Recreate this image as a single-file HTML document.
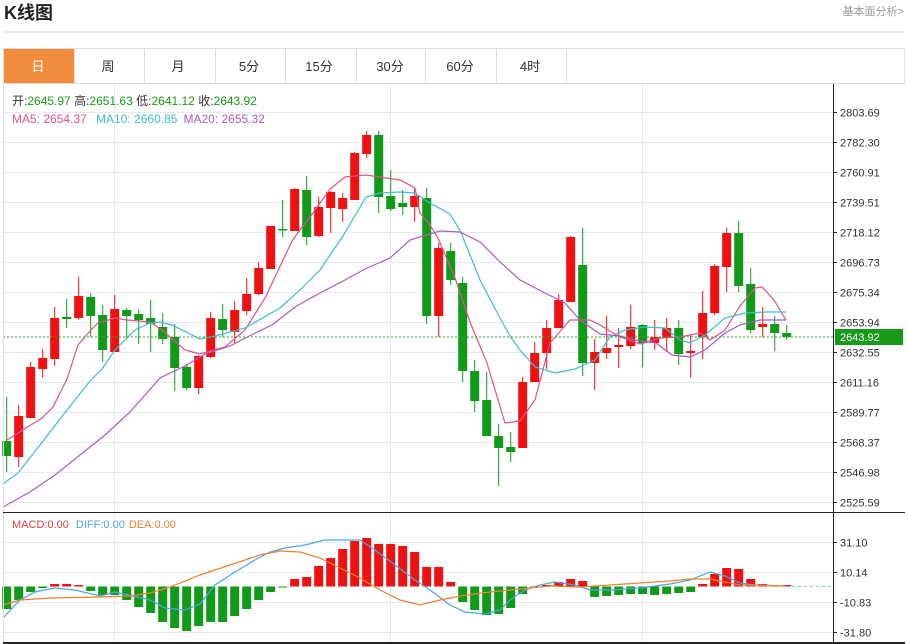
<!DOCTYPE html>
<html><head><meta charset="utf-8"><style>
body{margin:0;background:#fff;width:908px;height:644px;overflow:hidden;font-family:"Liberation Sans","Noto Sans CJK SC",sans-serif}
svg{display:block}
</style></head><body>
<svg id="s" width="908" height="644" xmlns="http://www.w3.org/2000/svg" font-family="Liberation Sans, Noto Sans CJK SC, sans-serif">
<text x="4" y="19" font-size="18" font-weight="bold" fill="#222">K线图</text>
<text x="904" y="15" font-size="11" fill="#999" text-anchor="end">基本面分析&gt;</text>
<line x1="3" y1="32" x2="905" y2="32" stroke="#ccc"/>
<rect x="3.5" y="48.5" width="901" height="35" fill="#fff" stroke="#ddd"/>
<rect x="4" y="49" width="70" height="34" fill="#f08c3c"/>
<g stroke="#ddd"><line x1="74.5" y1="48" x2="74.5" y2="84"/><line x1="144.5" y1="48" x2="144.5" y2="84"/><line x1="215.5" y1="48" x2="215.5" y2="84"/><line x1="285.5" y1="48" x2="285.5" y2="84"/><line x1="356.5" y1="48" x2="356.5" y2="84"/><line x1="425.5" y1="48" x2="425.5" y2="84"/><line x1="496.5" y1="48" x2="496.5" y2="84"/><line x1="566.5" y1="48" x2="566.5" y2="84"/></g>
<g font-size="13" text-anchor="middle" fill="#333">
<text x="38" y="71" fill="#fff">日</text><text x="108" y="71">周</text><text x="178" y="71">月</text><text x="249" y="71">5分</text><text x="319" y="71">15分</text><text x="390" y="71">30分</text><text x="460" y="71">60分</text><text x="530" y="71">4时</text></g>
<g id="grid" stroke="#e6eaef" stroke-width="1"></g>
<g id="main"></g>
<line x1="3.5" y1="84" x2="3.5" y2="643" stroke="#ddd"/>
<line x1="833.5" y1="84" x2="833.5" y2="643" stroke="#222"/>
<line x1="3" y1="512.5" x2="905" y2="512.5" stroke="#222"/>
<line x1="3" y1="643" x2="905" y2="643" stroke="#222" stroke-width="2"/>
<g font-size="12"><text x="12" y="105" fill="#333">开:<tspan fill="#1a9a1a">2645.97</tspan>  高:<tspan fill="#1a9a1a">2651.63</tspan>  低:<tspan fill="#1a9a1a">2641.12</tspan>  收:<tspan fill="#1a9a1a">2643.92</tspan></text>
<text x="12" y="123" fill="#e0508a">MA5: 2654.37 <tspan dx="6" fill="#3cc0cc">MA10: 2660.85</tspan><tspan dx="6" fill="#b058c0">MA20: 2655.32</tspan></text>
<text x="12" y="528" fill="#e03c3c" font-size="11">MACD:0.00 <tspan dx="4" fill="#4aa6e0">DIFF:0.00</tspan><tspan dx="4" fill="#f08030">DEA:0.00</tspan></text></g>
<g id="axis" font-size="11" fill="#333"></g>
<rect x="835" y="329" width="68" height="16" fill="#1a9a1a"/>
<text x="840" y="341" font-size="11" fill="#fff">2643.92</text>
</svg>
<script>
var NS="http://www.w3.org/2000/svg";
function el(p,t,a){var e=document.createElementNS(NS,t);for(var k in a)e.setAttribute(k,a[k]);document.getElementById(p).appendChild(e);return e;}
var labs=["2803.69","2782.30","2760.91","2739.51","2718.12","2696.73","2675.34","2653.94","2632.55","2611.16","2589.77","2568.37","2546.98","2525.59"];
labs.forEach(function(l,i){var y=112+30*i+.5;el("grid","line",{x1:3,y1:y,x2:833,y2:y});el("axis","line",{x1:833,y1:y,x2:837,y2:y,stroke:"#222"});var t=el("axis","text",{x:840,y:y+4});t.textContent=l;});
var ml=[["31.10",542],["10.14",572],["-10.83",602],["-31.80",632]];
ml.forEach(function(m){var y=m[1]+.5;el("grid","line",{x1:3,y1:y,x2:833,y2:y});el("axis","line",{x1:833,y1:y,x2:837,y2:y,stroke:"#222"});var t=el("axis","text",{x:840,y:y+4});t.textContent=m[0];});
[114.5,390.5,642.5].forEach(function(x){el("grid","line",{x1:x,y1:84,x2:x,y2:643});});
var R="#ee1111",G="#119a1a";
var c=[["g",397,441,456,472],["r",405,416,457,467],["r",362,367,418,418],["r",349,358,369,378],["r",307,318,359,366],["g",299,317,319,328],["r",277,296,318,320],["g",293,297,316,337],["g",305,315,350,362],["r",295,309,352,352],["g",308,310,316,339],["g",309,314,320,344],["g",300,318,324,352],["g",313,327,339,344],["g",324,337,368,391],["g",364,367,388,390],["r",355,356,388,394],["r",312,318,357,358],["g",304,319,330,337],["r",301,310,332,343],["r",278,294,311,315],["r",262,268,294,295],["r",226,226,269,269],["g",200,229,230,237],["r",188,189,231,231],["g",176,190,237,245],["r",197,207,236,237],["r",191,192,208,233],["r",193,198,209,222],["r",152,153,200,200],["r",131,135,154,158],["g",131,135,197,213],["g",170,196,209,211],["g",190,203,207,215],["r",188,196,207,222],["g",188,198,316,324],["r",243,248,316,337],["g",243,251,280,285],["g",277,283,371,382],["g",360,371,401,412],["g",372,400,436,436],["g",424,436,448,486],["g",432,447,452,462],["r",377,382,448,448],["r",342,353,382,382],["r",320,328,353,369],["r",294,300,328,328],["r",236,237,302,302],["g",228,265,363,376],["r",339,352,363,390],["r",316,348,353,359],["r",328,345,347,368],["r",305,327,346,349],["g",324,325,343,367],["r",320,337,343,350],["r",318,328,338,352],["g",320,328,354,365],["r",334,351,353,378],["r",291,313,337,359],["r",264,266,313,315],["r",228,233,267,292],["g",221,233,286,292],["g",268,284,330,333],["r",307,324,327,337],["g",316,324,333,351],["g",325,333,337,340]];
var m=[[7,609],[19,600],[31,592],[43,588],[55,584],[67,584],[79,585],[91,591],[103,595],[115,595],[127,600],[139,607],[150,613],[162,622],[174,628],[186,631],[198,626],[210,622],[222,622],[234,616],[246,609],[258,600],[270,592],[282,587],[294,579],[306,577],[318,566],[330,558],[342,549],[354,541],[366,538],[378,544],[390,544],[402,546],[414,552],[426,567],[438,567],[450,582],[462,602],[474,610],[486,615],[498,614],[510,608],[522,594],[534,587],[546,585],[558,582],[570,579],[582,581],[594,597],[606,596],[618,595],[630,594],[642,594],[654,595],[666,594],[678,593],[690,592],[702,584],[714,574],[726,568],[738,569],[750,579],[762,584],[774,585],[786,585]];
var z=586.5;
m.forEach(function(b,i){var x=6.7+12*i,y=b[1];var col=y<z?R:G;el("main","rect",{x:x-4.5,y:Math.min(y,z),width:9,height:Math.max(1,Math.abs(y-z)),fill:col});});
c.forEach(function(d,i){var x=6.7+12*i,col=d[0]=="r"?R:G;el("main","line",{x1:x,y1:d[1],x2:x,y2:d[4],stroke:col});el("main","rect",{x:x-4.5,y:d[2],width:9,height:Math.max(1.5,d[3]-d[2]),fill:col});});
function pl(pts,col){el("main","polyline",{points:pts,fill:"none",stroke:col,"stroke-width":1.2});}
pl("7,440 18,433 42,418 53,407 67,379 78,345 91,330 98,323 115,318 127,320 150,322 162,330 185,350 200,354 225,347 245,330 265,298 292,241 300,230 310,217 330,189 345,177 366,175 400,180 415,188 420,213 430,225 438,238 455,278 470,322 487,363 505,423 520,421 535,400 550,343 570,320 590,320 600,325 620,337 640,344 660,338 680,337 700,333 710,340 725,330 740,306 755,288 762,287 774,300 786,320","#e0508a");
pl("3,484 18,473 40,445 67,410 90,381 102,369 115,350 135,330 150,323 160,322 172,325 200,339 215,336 245,328 280,308 300,290 320,270 343,236 366,197 380,193 400,192 415,193 428,202 450,214 460,230 480,280 500,318 510,336 520,350 535,367 555,373 575,369 595,360 610,337 625,330 645,327 665,328 680,340 690,343 705,335 725,318 745,313 765,312 786,312","#3cc0cc");
pl("3,507 30,492 55,475 80,455 105,435 130,412 160,378 185,366 205,354 230,346 255,333 272,325 295,307 320,293 345,280 365,269 390,258 410,240 420,237 440,231 460,232 480,242 500,262 520,280 545,293 565,303 580,320 600,334 620,336 635,340 656,343 672,355 690,357 705,350 725,333 740,325 760,320 786,320","#b058c0");
pl("3,618 20,600 35,592 55,588 75,590 100,596 115,592 150,600 165,608 185,610 200,604 215,585 235,572 255,560 270,552 285,548 305,545 325,540 345,540 360,540 375,550 395,565 415,580 430,590 450,605 465,612 485,614 500,610 510,600 525,590 540,585 555,582 575,585 590,590 610,590 640,588 670,584 690,580 710,572 725,576 740,583 755,585 786,586","#4aa6e0");
pl("3,605 20,600 50,598 100,597 130,596 150,593 170,587 200,575 230,565 260,555 280,551 300,552 320,558 340,568 360,578 380,590 400,600 420,605 440,600 460,596 490,592 510,590 530,588 550,586 580,587 610,585 640,583 670,581 690,579 710,579 725,582 740,585 786,586","#f08030");
el("main","line",{x1:786,y1:586.5,x2:833,y2:586.5,stroke:"#8cc8e8","stroke-dasharray":"3,3"});
el("main","line",{x1:3,y1:337,x2:833,y2:337,stroke:"#2aa82a","stroke-dasharray":"2,2"});
</script>
</body></html>
